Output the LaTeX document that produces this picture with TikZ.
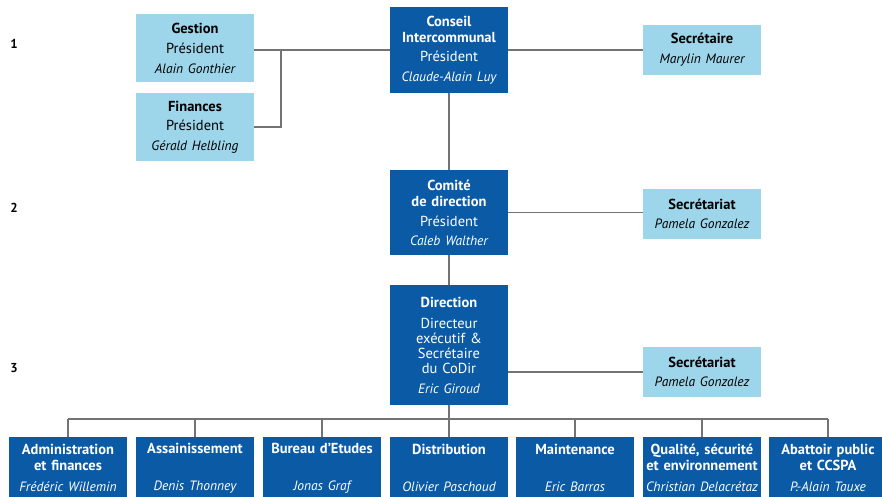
\documentclass[tikz,border=0pt]{standalone}
\usepackage{fontspec}
\setmainfont{PT Sans}
\definecolor{dblue}{RGB}{10,90,166}
\definecolor{lblue}{RGB}{157,214,235}
\definecolor{lgray}{RGB}{115,115,115}
\newcommand\pname[1]{{\fontsize{13.5}{16}\selectfont\itshape #1}}
\begin{document}
\begin{tikzpicture}[x=1pt,y=-1pt,
  box/.style={minimum width=118pt, text width=118pt, inner sep=0pt, align=center,
    font=\fontsize{14.5}{16}\selectfont, anchor=center},
  dark/.style={box, fill=dblue, text=white},
  light/.style={box, fill=lblue, text=black},
  link/.style={draw=lgray, line width=1.1pt},
  lvl/.style={font=\fontsize{13}{15}\selectfont\bfseries, anchor=center}]
\clip (0,0) rectangle (882,497);
\fill[white] (0,0) rectangle (882,497);

% level numbers
\node[lvl] (l1) at (14,44) {1};
\node[lvl] (l2) at (14,208) {2};
\node[lvl] (l3) at (14,368) {3};

% level 1
\node[dark, minimum height=86pt] (ci) at (449,50)
  {\textbf{Conseil}\\\textbf{Intercommunal}\\[3pt]Président\\[4pt]\pname{Claude-Alain Luy}};
\node[light, minimum height=68pt] (gest) at (195,48)
  {\textbf{Gestion}\\[4pt]Président\\[4pt]\pname{Alain Gonthier}};
\node[light, minimum height=68pt] (fin) at (195,127)
  {\textbf{Finances}\\[3pt]Président\\[4pt]\pname{Gérald Helbling}};
\node[light, minimum height=50pt] (sec) at (702,50)
  {\textbf{Secrétaire}\\[4pt]\pname{Marylin Maurer}};

% level 2
\node[dark, minimum height=85pt] (com) at (449,212.5)
  {\textbf{Comité}\\\textbf{de direction}\\[4pt]Président\\[3pt]\pname{Caleb Walther}};
\node[light, minimum height=50pt] (sr1) at (702,214)
  {\textbf{Secrétariat}\\[3pt]\pname{Pamela Gonzalez}};

% level 3
\node[dark, minimum height=120pt] (dir) at (449,345)
  {\textbf{Direction}\\[5pt]Directeur\\[-1pt]exécutif \&\\[-1pt]Secrétaire\\[-1pt]du CoDir\\[4pt]\pname{Eric Giroud}};
\node[light, minimum height=50pt] (sr2) at (702,372)
  {\textbf{Secrétariat}\\[3pt]\pname{Pamela Gonzalez}};

% bottom row
\node[dark, minimum height=62pt] (b1) at (68,468)
  {\textbf{Administration}\\\textbf{et finances}\\[5pt]\pname{Frédéric Willemin}};
\node[dark, minimum height=62pt] (b2) at (195,468)
  {\textbf{Assainissement}\\\mbox{}\\[5pt]\pname{Denis Thonney}};
\node[dark, minimum height=62pt] (b3) at (322,468)
  {\textbf{Bureau d’Etudes}\\\mbox{}\\[5pt]\pname{Jonas Graf}};
\node[dark, minimum height=62pt] (b4) at (449,468)
  {\textbf{Distribution}\\\mbox{}\\[5pt]\pname{Olivier Paschoud}};
\node[dark, minimum height=62pt] (b5) at (575,468)
  {\textbf{Maintenance}\\\mbox{}\\[5pt]\pname{Eric Barras}};
\node[dark, minimum height=62pt] (b6) at (702,468)
  {\textbf{Qualité, sécurité}\\\textbf{et environnement}\\[5pt]\pname{Christian Delacrétaz}};
\node[dark, minimum height=62pt] (b7) at (828,468)
  {\textbf{Abattoir public}\\\textbf{et CCSPA}\\[5pt]\pname{P.-Alain Tauxe}};

% connectors
\coordinate (j1) at (281,50);
\coordinate (bus) at (449,419);
\draw[link] (ci.west) -- (ci.west -| gest.east);
\draw[link] (fin.east) -| (j1);
\draw[link] (ci.east) -- (sec.west);
\draw[link] (ci.south) -- (com.north);
\draw[link] (com.east) -- (com.east -| sr1.west);
\draw[link] (com.south) -- (dir.north);
\draw[link] (sr2.west) -- (sr2.west -| dir.east);
\draw[link] (dir.south) -- (bus);
\draw[link] (b1.north |- bus) -- (b7.north |- bus);
\foreach \b in {b1,b2,b3,b4,b5,b6,b7}
  \draw[link] (\b.north) -- (\b.north |- bus);
\end{tikzpicture}
\end{document}
